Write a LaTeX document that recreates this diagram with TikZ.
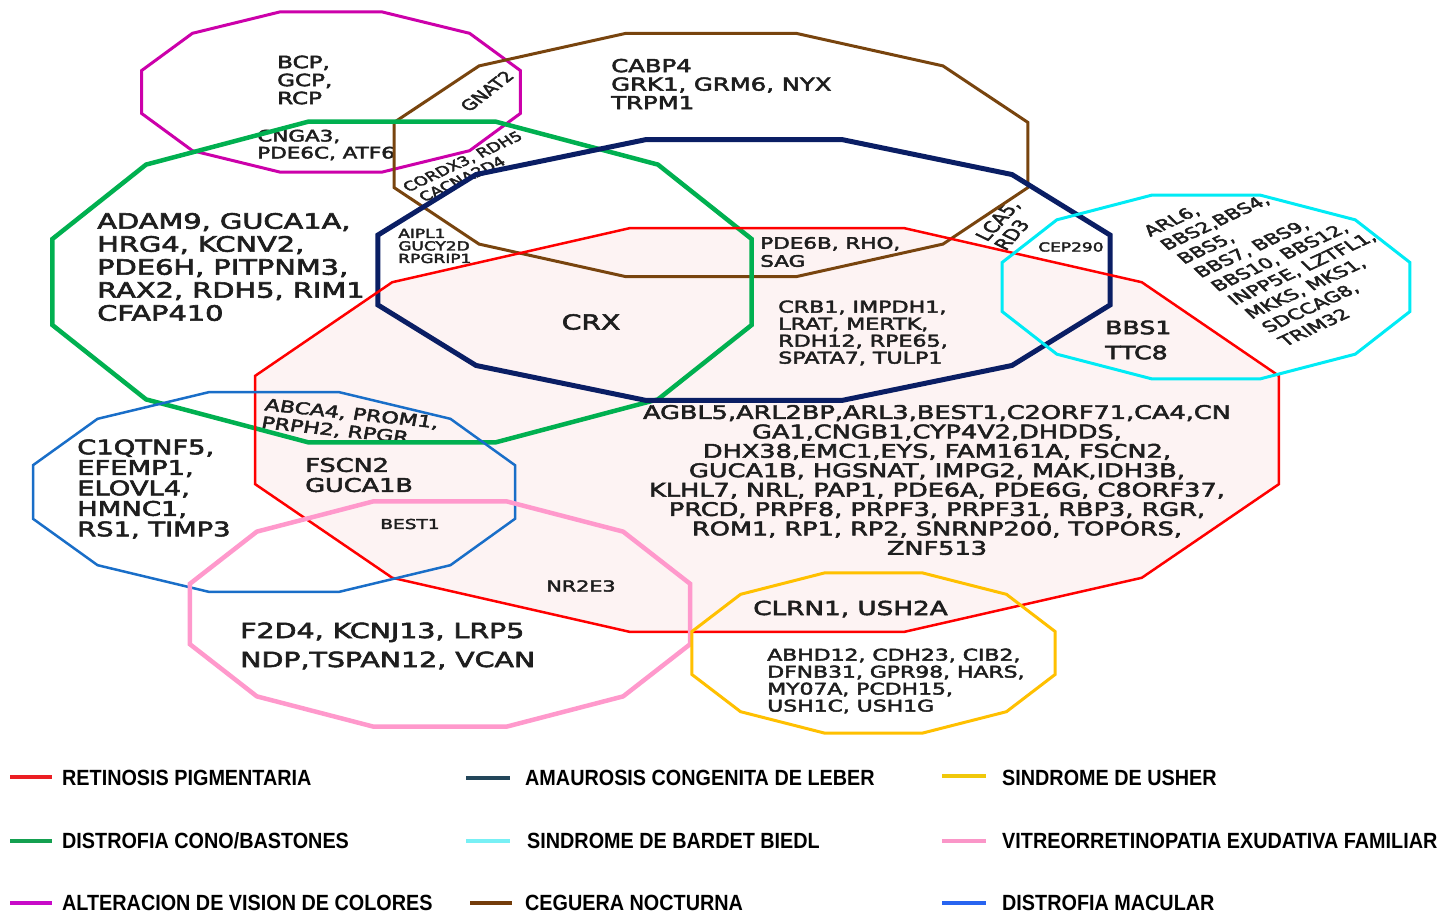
\documentclass[tikz,border=0pt]{standalone}
\usepackage{fontspec}
\newfontfamily\gf{DejaVu Sans}[FakeBold=2.5]
\newfontfamily\legf{Liberation Sans}
\newcommand\fsz[2]{\fontsize{#1}{#2}\selectfont}
\definecolor{cRed}{RGB}{255,0,0}
\definecolor{cFill}{RGB}{253,243,243}
\definecolor{cGreen}{RGB}{0,176,80}
\definecolor{cMag}{RGB}{204,0,170}
\definecolor{cBrown}{RGB}{120,68,14}
\definecolor{cNavy}{RGB}{10,30,100}
\definecolor{cCyan}{RGB}{0,235,245}
\definecolor{cBlue}{RGB}{25,110,200}
\definecolor{cPink}{RGB}{255,153,204}
\definecolor{cYellow}{RGB}{255,192,0}
\definecolor{lRed}{RGB}{235,30,35}
\definecolor{lNavy}{RGB}{35,70,90}
\definecolor{lYellow}{RGB}{240,200,10}
\definecolor{lGreen}{RGB}{20,160,80}
\definecolor{lCyan}{RGB}{120,240,245}
\definecolor{lPink}{RGB}{250,150,200}
\definecolor{lMag}{RGB}{200,10,200}
\definecolor{lBrown}{RGB}{115,60,10}
\definecolor{lBlue}{RGB}{40,100,240}
\definecolor{txt}{RGB}{30,30,30}
\newcommand\dodec[5]{\draw[#5, shift={(#1,#2)}] (15:#3 and #4) -- (45:#3 and #4) -- (75:#3 and #4) -- (105:#3 and #4) -- (135:#3 and #4) -- (165:#3 and #4) -- (195:#3 and #4) -- (225:#3 and #4) -- (255:#3 and #4) -- (285:#3 and #4) -- (315:#3 and #4) -- (345:#3 and #4) -- cycle;}
\tikzset{
  lbl/.style={text=txt, inner sep=0pt, xscale=1.36, align=left},
  cy/.style={font={\gf\fsz{14.5}{18}}, text=txt, anchor=base west, inner sep=0pt, xscale=1.48, rotate=34.6},
  lg/.style={font={\legf\bfseries\fsz{22}{24}}, xscale=0.9, anchor=west, inner sep=0pt, text=black},
  sw/.style={line width=4.5pt},
}
\begin{document}
\begin{tikzpicture}[x=1pt,y=-1pt]
\useasboundingbox (0,0) rectangle (1455,915);
\fill[white] (0,0) rectangle (1455,915);
% red fill
\dodec{767}{430}{530}{209}{fill=cFill, draw=none}
% texts
\node[lbl, font={\gf\fsz{16.9}{18}}, anchor=west] (bcp) at (277,80) {BCP,\\GCP,\\RCP};
\node[lbl, font={\gf\fsz{15.8}{17}}, anchor=west] (cnga) at (257,145) {CNGA3,\\PDE6C, ATF6};
\node[lbl, font={\gf\fsz{14.5}{16}}, rotate=46.7] (gnat) at (487,91) {GNAT2};
\node[lbl, font={\gf\fsz{13}{14}}, rotate=32.4] (cordx) at (463,162) {CORDX3, RDH5};
\node[lbl, font={\gf\fsz{13}{14}}, rotate=32.4] (cacna) at (462,179) {CACNA2D4};
\node[lbl, font={\gf\fsz{17.9}{18.5}}, anchor=west] (cabp) at (611,84) {CABP4\\GRK1, GRM6, NYX\\TRPM1};
\node[lbl, font={\gf\fsz{15.5}{16.5}}, rotate=56.3] (lca) at (1007,225) {LCA5,\\RD3};
\node[lbl, font={\gf\fsz{12.5}{12.5}}, anchor=west] (aipl) at (398,246) {AIPL1\\GUCY2D\\RPGRIP1};
\node[lbl, font={\gf\fsz{20.7}{22}}] (crx) at (591,322) {CRX};
\node[lbl, font={\gf\fsz{12.5}{13}}, anchor=west] (cep) at (1038,247) {CEP290};
\node[lbl, font={\gf\fsz{18.5}{25}}, anchor=west] (bbs1) at (1105,340) {BBS1\\TTC8};
\node[lbl, font={\gf\fsz{15.8}{18}}, anchor=west] (pde6b) at (760,252) {PDE6B, RHO,\\SAG};
\node[lbl, font={\gf\fsz{16.3}{17}}, anchor=west] (crb1) at (778,333) {CRB1, IMPDH1,\\LRAT, MERTK,\\RDH12, RPE65,\\SPATA7, TULP1};
\node[lbl, font={\gf\fsz{18.8}{19.4}}, align=center] (rp) at (937,480) {AGBL5,ARL2BP,ARL3,BEST1,C2ORF71,CA4,CN\\GA1,CNGB1,CYP4V2,DHDDS,\\DHX38,EMC1,EYS, FAM161A, FSCN2,\\GUCA1B, HGSNAT, IMPG2, MAK,IDH3B,\\KLHL7, NRL, PAP1, PDE6A, PDE6G, C8ORF37,\\PRCD, PRPF8, PRPF3, PRPF31, RBP3, RGR,\\ROM1, RP1, RP2, SNRNP200, TOPORS,\\ZNF513};
\node[lbl, font={\gf\fsz{16.3}{18}}, rotate=-8.1, anchor=west] (abca) at (263,414) {ABCA4, PROM1,\\PRPH2, RPGR};
\node[lbl, font={\gf\fsz{18.8}{20}}, anchor=west] (fscn) at (305,475) {FSCN2\\GUCA1B};
\node[lbl, font={\gf\fsz{13.6}{14}}] (best) at (410,524) {BEST1};
\node[lbl, font={\gf\fsz{20.1}{20.5}}, anchor=west] (c1q) at (77,489) {C1QTNF5,\\EFEMP1,\\ELOVL4,\\HMNC1,\\RS1, TIMP3};
\node[lbl, font={\gf\fsz{15.2}{16}}] (nr2e3) at (581,586) {NR2E3};
\node[lbl, font={\gf\fsz{20.9}{29}}, anchor=west] (f2d4) at (240,646) {F2D4, KCNJ13, LRP5\\NDP,TSPAN12, VCAN};
\node[lbl, font={\gf\fsz{19.3}{20}}, anchor=west] (clrn) at (753,609) {CLRN1, USH2A};
\node[lbl, font={\gf\fsz{16.1}{17}}, anchor=west] (abhd) at (767,681) {ABHD12, CDH23, CIB2,\\DFNB31, GPR98, HARS,\\MY07A, PCDH15,\\USH1C, USH1G};
\node[lbl, font={\gf\fsz{21.2}{23}}, anchor=west] (adam) at (97,267) {ADAM9, GUCA1A,\\HRG4, KCNV2,\\PDE6H, PITPNM3,\\RAX2, RDH5, RIM1\\CFAP410};
\node[cy] (b0) at (1150,237) {ARL6,};
\node[cy] (b1) at (1166.9,250.75) {BBS2,BBS4,};
\node[cy] (b2) at (1183.8,264.5) {BBS5,};
\node[cy] (b3) at (1200.7,278.25) {BBS7, BBS9,};
\node[cy] (b4) at (1217.6,292) {BBS10, BBS12,};
\node[cy] (b5) at (1234.5,305.75) {INPP5E, LZTFL1,};
\node[cy] (b6) at (1251.4,319.5) {MKKS, MKS1,};
\node[cy] (b7) at (1268.3,333.25) {SDCCAG8,};
\node[cy] (b8) at (1285.2,347) {TRIM32};
% outlines
\dodec{331}{92}{196}{83}{draw=cMag, line width=3pt}
\dodec{711}{155}{328}{126}{draw=cBrown, line width=3pt}
\dodec{402}{282}{362}{166}{draw=cGreen, line width=4.5pt}
\dodec{744}{270}{379}{135}{draw=cNavy, line width=5pt}
\dodec{767}{430}{530}{209}{draw=cRed, line width=2.5pt}
\dodec{1206}{287}{211}{95}{draw=cCyan, line width=3pt}
\dodec{274}{492}{249.5}{103.5}{draw=cBlue, line width=2.5pt}
\dodec{440}{614}{259}{116.5}{draw=cPink, line width=4.5pt}
\dodec{873.5}{653}{188}{83}{draw=cYellow, line width=3pt}
% legend
\draw[sw, lRed] (10,777) -- (52,777);
\draw[sw, lGreen] (10,841) -- (52,841);
\draw[sw, lMag] (10,903) -- (52,903);
\draw[sw, lNavy] (466,778) -- (510,778);
\draw[sw, lCyan] (466,841) -- (510,841);
\draw[sw, lBrown] (470,903) -- (512,903);
\draw[sw, lYellow] (942,776) -- (986,776);
\draw[sw, lPink] (942,841) -- (986,841);
\draw[sw, lBlue] (942,903) -- (986,903);
\node[lg] (l1) at (62,778) {RETINOSIS PIGMENTARIA};
\node[lg] (l2) at (525,778) {AMAUROSIS CONGENITA DE LEBER};
\node[lg] (l3) at (1002,778) {SINDROME DE USHER};
\node[lg] (l4) at (62,841) {DISTROFIA CONO/BASTONES};
\node[lg] (l5) at (527,841) {SINDROME DE BARDET BIEDL};
\node[lg] (l6) at (1002,841) {VITREORRETINOPATIA EXUDATIVA FAMILIAR};
\node[lg] (l7) at (62,903) {ALTERACION DE VISION DE COLORES};
\node[lg] (l8) at (525,903) {CEGUERA NOCTURNA};
\node[lg] (l9) at (1002,903) {DISTROFIA MACULAR};
\end{tikzpicture}
\end{document}
